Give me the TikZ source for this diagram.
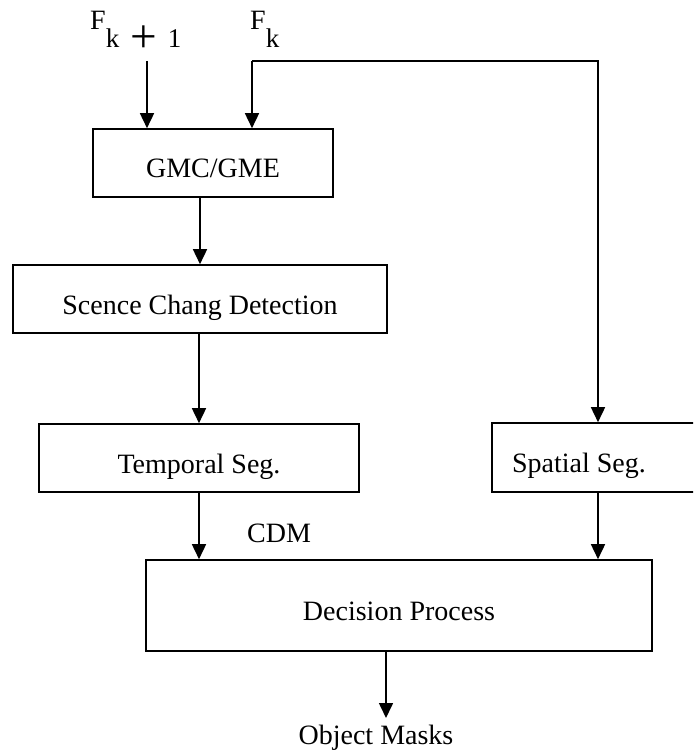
\documentclass[tikz,border=0pt]{standalone}
\usepackage{fontspec}
\setmainfont{Liberation Serif}
\usetikzlibrary{arrows.meta}

\begin{document}
\begin{tikzpicture}[x=1pt,y=-1pt,font=\fontsize{28}{30}\selectfont,
 box/.style={draw,line width=1.6pt,inner sep=0pt,text height=30pt,text depth=0pt},
 flow/.style={-{Triangle[length=15pt,width=14pt]},line width=1.6pt},
 sig/.style={anchor=base west,inner sep=0pt}]
\path[use as bounding box] (0,0) rectangle (693,754);
\clip (0,0) rectangle (693,754);
% frame inputs: the F_k line splits at its corner
\node[sig] (fknext) at (90,30) {F\raisebox{-18pt}{\fontsize{27}{28}\selectfont k\hspace{11pt}\raisebox{-4.5pt}{\scalebox{1.75}{+}}\hspace{11pt}1}};
\node[sig] (fkcur) at (250,30) {F\raisebox{-18pt}{\fontsize{27}{28}\selectfont k}};
\coordinate (in1) at (147,61);
\coordinate (fk) at (252,61);

\node[box,minimum width=240,minimum height=68] (gmc) at (213,163) {GMC/GME};
\node[box,minimum width=374,minimum height=68] (scd) at (200,299) {Scence Chang Detection};
\node[box,minimum width=320,minimum height=68] (temporal) at (199,458) {Temporal Seg.};
% right box runs off the page edge
\node[box,minimum width=212,minimum height=69] (spatial) at (598,457.5) {\hspace*{-38pt}Spatial Seg.};
\node[box,minimum width=506,minimum height=91] (decision) at (399,605.5) {Decision Process};
\node (cdm) at (279,533) {CDM};
\node[anchor=north,inner ysep=7pt] (masks) at (376,718) {Object Masks};
\coordinate (out) at (386,651);

\draw[flow] (in1) -- (in1 |- gmc.north);
\draw[flow] (fk) -- (fk |- gmc.north);
\draw[flow] (fk) -| (spatial.north);
\draw[flow] (scd.north |- gmc.south) -- (scd.north);
\draw[flow] (temporal.north |- scd.south) -- (temporal.north);
\draw[flow] (temporal.south) -- (temporal.south |- decision.north);
\draw[flow] (spatial.south) -- (spatial.south |- decision.north);
\draw[flow] (out) -- (out |- masks.north);
\end{tikzpicture}
\end{document}
